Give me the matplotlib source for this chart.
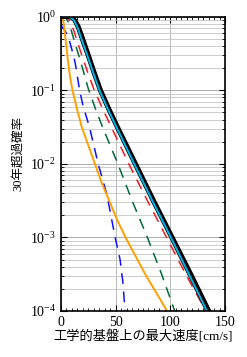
import numpy as np
import matplotlib
matplotlib.use("Agg")
import matplotlib.pyplot as plt
import matplotlib.patheffects as pe
from matplotlib.ticker import LogLocator, MultipleLocator, NullFormatter, LogFormatterMathtext

plt.rcParams['font.family'] = ['Liberation Serif', 'Noto Sans CJK JP']
plt.rcParams['mathtext.fontset'] = 'stix'

# 最大速度 [cm/s] と log10(30年超過確率)
x_total = [0, 7, 10, 13, 16, 19, 22, 24.8, 30.5, 36.5, 44, 52, 68.5, 85, 102, 119, 135.5]
lp_total = [0, 0, -0.01, -0.05, -0.13, -0.25, -0.38, -0.5, -0.75, -1.0, -1.25, -1.5, -2.0, -2.5, -3.0, -3.5, -4.0]

x_cyan = [0, 6, 9, 12, 15, 18, 21, 23.5, 29.2, 35.2, 42.7, 50.7, 67, 83.5, 100.5, 117, 133.5]
lp_cyan = [0, 0, -0.01, -0.05, -0.14, -0.27, -0.4, -0.5, -0.75, -1.0, -1.25, -1.5, -2.0, -2.5, -3.0, -3.5, -4.0]

x_red = [0, 5, 8, 12, 15.6, 19, 24.5, 30.5, 38, 46, 62, 79, 96.5, 114, 132.5]
lp_red = [0, 0, -0.05, -0.2, -0.37, -0.52, -0.76, -1.0, -1.25, -1.5, -2.0, -2.5, -3.0, -3.5, -4.0]

x_green = [0, 4, 6, 8.5, 13, 17, 21, 25, 31, 38, 52, 65, 79, 92, 104]
lp_green = [0, 0, -0.05, -0.14, -0.37, -0.56, -0.77, -0.98, -1.23, -1.5, -2.0, -2.5, -3.0, -3.5, -4.0]

x_blue = [0, 1, 4, 7, 10, 13, 17, 20, 26, 34, 42, 49.5, 54, 56.5, 58.6]
lp_blue = [-0.11, -0.136, -0.2, -0.29, -0.45, -0.63, -1.0, -1.2, -1.5, -2.0, -2.42, -3.0, -3.3, -3.6, -4.0]

x_orange = [0, 1.5, 2.5, 3.7, 5, 6.5, 8.3, 10.5, 14.5, 19, 25, 31, 37, 44, 51, 59, 68, 77, 87, 97]
lp_orange = [0, 0, -0.1, -0.25, -0.42, -0.62, -0.82, -1.0, -1.25, -1.5, -1.75, -2.0, -2.25, -2.5, -2.75, -3.0, -3.25, -3.5, -3.75, -4.0]

fig = plt.figure(figsize=(2.47, 3.57), dpi=100)
ax = fig.add_axes([0.247, 0.129, 0.664, 0.824])

dash = (7, 5)
ax.plot(x_blue, 10 ** np.array(lp_blue), color='#1010ff', lw=1.1, dashes=dash)
ax.plot(x_green, 10 ** np.array(lp_green), color='#006a3a', lw=1.1, dashes=dash)
ax.plot(x_red, 10 ** np.array(lp_red), color='#ee1c25', lw=1.1, dashes=dash)
ax.plot(x_orange, 10 ** np.array(lp_orange), color='#ffa000', lw=1.4)
ax.plot(x_total, 10 ** np.array(lp_total), color='black', lw=3.0)
ax.plot(x_cyan, 10 ** np.array(lp_cyan), color='#00b4e6', lw=1.4,
        path_effects=[pe.Stroke(linewidth=2.4, foreground='black'), pe.Normal()])

ax.set_yscale('log')
ax.set_xlim(0, 150)
ax.set_ylim(1e-4, 1)
ax.xaxis.set_major_locator(MultipleLocator(50))
ax.xaxis.set_minor_locator(MultipleLocator(5))
ax.yaxis.set_major_locator(LogLocator(base=10, numticks=10))
ax.yaxis.set_minor_locator(LogLocator(base=10, subs=np.arange(2, 10), numticks=20))
ax.yaxis.set_major_formatter(LogFormatterMathtext())
ax.yaxis.set_minor_formatter(NullFormatter())

ax.grid(True, which='major', axis='x', color='#b0b0b0', lw=0.6)
ax.grid(True, which='major', axis='y', color='#a0a0a0', lw=0.6)
ax.grid(True, which='minor', axis='y', color='#c4c4c4', lw=0.6)
ax.tick_params(which='both', direction='in', top=True, right=True, labelsize=10)
ax.tick_params(which='major', length=4, width=0.8)
ax.tick_params(which='minor', length=2, width=0.6)
for s in ax.spines.values():
    s.set_linewidth(1.2)

ax.set_xlabel('工学的基盤上の最大速度[cm/s]', fontsize=9.5, labelpad=1)
ax.set_ylabel('30年超過確率', fontsize=9)
ax.yaxis.set_label_coords(-0.225, 0.535)

fig.savefig('out.png', dpi=100)
